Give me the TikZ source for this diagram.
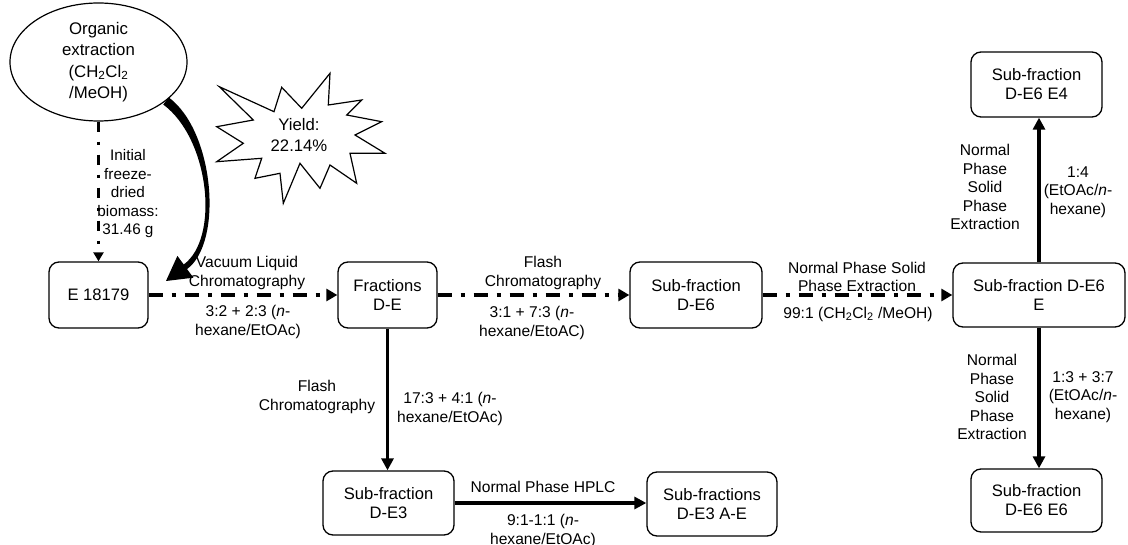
\documentclass[tikz,border=0pt]{standalone}
\usepackage{fontspec}
\setmainfont{Liberation Sans}
\usetikzlibrary{arrows.meta,shapes.geometric,calc}
\begin{document}
\begin{tikzpicture}[x=1pt,y=-1pt,
  box/.style={draw, rounded corners=10pt, line width=1.3pt, align=center, inner sep=0pt,
    font=\fontsize{16.6pt}{19pt}\selectfont},
  lbl/.style={align=center, inner sep=0pt, font=\fontsize{15.6pt}{18.5pt}\selectfont},
  solidarrow/.style={line width=3.3pt, -{Triangle[length=12pt,width=12pt]}},
  dasharrow/.style={line width=4pt, dash pattern=on 14pt off 9pt on 4pt off 9pt,
    -{Triangle[length=11pt,width=12pt]}},
  thindash/.style={line width=3pt, dash pattern=on 10pt off 10pt on 3pt off 10pt,
    -{Triangle[length=9pt,width=10pt]}}
]
\useasboundingbox (0,0) rectangle (1128,545);

% nodes
\node[draw, ellipse, line width=1.2pt, minimum width=177pt, minimum height=118pt,
  inner sep=0pt, align=center, font=\fontsize{16.8pt}{21.5pt}\selectfont]
  (org) at (98.5,62) {Organic\\extraction\\(CH\textsubscript{2}Cl\textsubscript{2}\\/MeOH)};
\node[box, minimum width=99pt, minimum height=66pt] (e18) at (98.5,295) {E 18179};
\node[box, minimum width=99pt, minimum height=66pt] (fde) at (387.5,295) {Fractions\\D-E};
\node[box, minimum width=132pt, minimum height=66pt] (de6) at (696,295) {Sub-fraction\\D-E6};
\node[box, minimum width=172pt, minimum height=64pt] (de6e) at (1039,295) {Sub-fraction D-E6\\E};
\node[box, minimum width=131pt, minimum height=65pt] (e4) at (1036.5,84.5) {Sub-fraction\\D-E6 E4};
\node[box, minimum width=131pt, minimum height=63pt] (e6) at (1036.5,500.5) {Sub-fraction\\D-E6 E6};
\node[box, minimum width=131pt, minimum height=64pt] (de3) at (388.5,503) {Sub-fraction\\D-E3};
\node[box, minimum width=130pt, minimum height=64pt] (de3ae) at (712,504) {Sub-fractions\\D-E3 A-E};

% star
\draw[line width=1.2pt, line join=miter, fill=white]
  (219.3,86.7) -- (274,111.7) -- (281.7,87.3) -- (301.7,108.3) -- (330,73.3) --
  (328.3,105) -- (361.7,100) -- (346.7,115) -- (381.7,121.7) -- (355,135) --
  (385,153.3) -- (350,153.3) -- (356.7,183.3) -- (330,165) -- (320,188.3) --
  (300,163.3) -- (283.3,203.3) -- (280,173.3) -- (255,178.3) -- (261.7,158.3) --
  (216.7,161.7) -- (243.3,143.3) -- (216.7,126.7) -- (253.3,120) -- cycle;
\node[align=center, inner sep=0pt, font=\fontsize{16.7pt}{20.5pt}\selectfont]
  (yield) at (299,135) {Yield:\\22.14\%};

% connectors
\draw[thindash] (org.south) -- (e18.north);
\node[lbl, font=\fontsize{15.3pt}{18.5pt}\selectfont] (lbio) at (128,194)
  {Initial\\freeze-\\dried\\biomass:\\31.46 g};

% tapered curved block arrow from the ellipse towards E 18179
\coordinate (cst) at (org.-30);
\coordinate (ctip) at (166,281);
\fill[black]
  ($(cst)+(-2.7,3.6)$) .. controls (209.3,138.6) and (220.05,237.9) .. (183.75,264.5)
  -- (177.4,255.9) -- (ctip) -- (193.4,277.7) -- (187.05,269.1)
  .. controls (223.35,242.5) and (214.7,131.4) .. ($(cst)+(2.7,-3.6)$) -- cycle;

\draw[dasharrow] (e18.east) -- (fde.west);
\node[lbl] (l1a) at (247,273) {Vacuum Liquid\\Chromatography};
\node[lbl] (l1b) at (248,322) {3:2 + 2:3 (\textit{n}-\\hexane/EtOAc)};

\draw[dasharrow] (fde.east) -- (de6.west);
\node[lbl] (l2a) at (543,273) {Flash\\Chromatography};
\node[lbl] (l2b) at (532,323) {3:1 + 7:3 (\textit{n}-\\hexane/EtoAC)};

\draw[dasharrow] (de6.east) -- (de6e.west);
\node[lbl] (l3a) at (857,277) {Normal Phase Solid\\Phase Extraction};
\node[lbl] (l3b) at (858,314) {99:1 (CH\textsubscript{2}Cl\textsubscript{2} /MeOH)};

\draw[solidarrow] (fde.south) -- (fde.south |- de3.north);
\node[lbl] (l4a) at (317,397) {Flash\\Chromatography};
\node[lbl] (l4b) at (450,409) {17:3 + 4:1 (\textit{n}-\\hexane/EtOAc)};

\draw[solidarrow] (de3.east) -- (de3.east -| de3ae.west);
\node[lbl] (l5a) at (543,487) {Normal Phase HPLC};
\node[lbl] (l5b) at (543,531) {9:1-1:1 (\textit{n}-\\hexane/EtOAc)};

\draw[solidarrow] (de6e.north) -- (de6e.north |- e4.south);
\node[lbl] (l6a) at (985,187) {Normal\\Phase\\Solid\\Phase\\Extraction};
\node[lbl] (l6b) at (1078,192) {1:4\\(EtOAc/\textit{n}-\\hexane)};

\draw[solidarrow] (de6e.south) -- (de6e.south |- e6.north);
\node[lbl] (l7a) at (992,397) {Normal\\Phase\\Solid\\Phase\\Extraction};
\node[lbl] (l7b) at (1083,397) {1:3 + 3:7\\(EtOAc/\textit{n}-\\hexane)};
\end{tikzpicture}
\end{document}
